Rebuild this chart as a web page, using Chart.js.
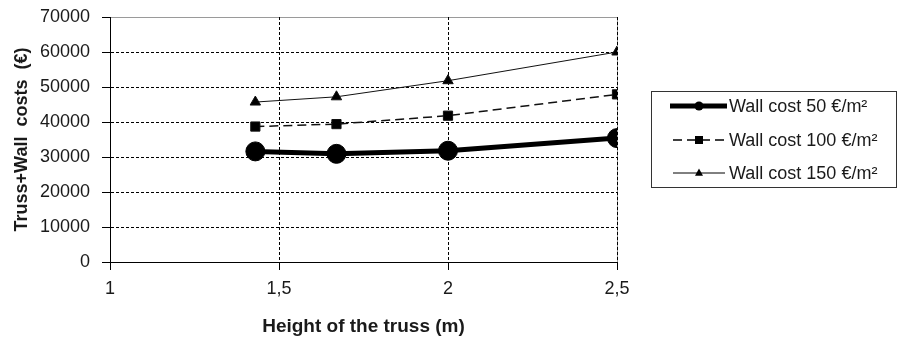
<!DOCTYPE html>
<html>
<head>
<meta charset="utf-8">
<script src="https://cdn.jsdelivr.net/npm/chart.js@4.4.0/dist/chart.umd.min.js"></script>
<style>
  html, body { margin: 0; padding: 0; background: #fff; }
  #wrap { width: 898px; height: 340px; }
</style>
</head>
<body>
<div id="wrap"><canvas id="costChart"></canvas></div>
<script>
// values
const heights = [1.43, 1.67, 2.0, 2.5];
const wallCost50 = [31600, 30900, 31800, 35400];
const wallCost100 = [38700, 39400, 41800, 47900];
const wallCost150 = [45700, 47200, 51800, 60000];
const seriesNames = ['Wall cost 50 €/m²', 'Wall cost 100 €/m²', 'Wall cost 150 €/m²'];
const xTicks = [1, 1.5, 2, 2.5];
const yTicks = [0, 10000, 20000, 30000, 40000, 50000, 60000, 70000];

const textColor = '#1a1a1a';

function toPoints(ys) {
    return heights.map((h, i) => ({ x: h, y: ys[i] }));
}

// draws a small marker the same way as the chart points
function drawMarker(ctx, style, x, y, r) {
    ctx.beginPath();
    if (style === 'circle') {
        ctx.arc(x, y, r, 0, Math.PI * 2);
    } else if (style === 'rect') {
        ctx.rect(x - r, y - r, r * 2, r * 2);
    } else {
        ctx.moveTo(x, y - r * 1.1);
        ctx.lineTo(x + r, y + r * 0.7);
        ctx.lineTo(x - r, y + r * 0.7);
        ctx.closePath();
    }
    ctx.fill();
}

// Excel style legend box on the right
const legendBox = {
    id: 'legendBox',
    afterDraw(chart) {
        const ctx = chart.ctx;
        ctx.save();
        ctx.strokeStyle = '#333';
        ctx.lineWidth = 1;
        ctx.setLineDash([]);
        ctx.strokeRect(651.5, 91.5, 245, 96);

        const rowsY = [106, 140, 173];
        const markerSize = [4.5, 4, 4];
        chart.data.datasets.forEach((ds, i) => {
            const y = rowsY[i];
            ctx.strokeStyle = '#000';
            ctx.fillStyle = '#000';
            ctx.lineWidth = ds.borderWidth;
            ctx.setLineDash(ds.borderDash || []);
            ctx.beginPath();
            ctx.moveTo(i === 0 ? 670 : 673, y);
            ctx.lineTo(i === 2 ? 725 : 727, y);
            ctx.stroke();
            ctx.setLineDash([]);
            drawMarker(ctx, ds.pointStyle, 699, y, markerSize[i]);

            ctx.fillStyle = textColor;
            ctx.font = '18px "Liberation Sans", Arial, sans-serif';
            ctx.textBaseline = 'middle';
            ctx.textAlign = 'left';
            ctx.fillText(ds.label, 729, y + 1);
        });
        ctx.restore();
    }
};

// gray plot area frame (top and right), under the gridlines
const plotFrame = {
    id: 'plotFrame',
    beforeDraw(chart) {
        const { ctx, chartArea: a } = chart;
        ctx.save();
        ctx.strokeStyle = '#9a9a9a';
        ctx.lineWidth = 1;
        ctx.beginPath();
        ctx.moveTo(a.left, a.top + 0.5);
        ctx.lineTo(a.right + 0.5, a.top + 0.5);
        ctx.lineTo(a.right + 0.5, a.bottom);
        ctx.stroke();
        ctx.restore();
    }
};

const ctx = document.getElementById('costChart').getContext('2d');
new Chart(ctx, {
    type: 'line',
    data: {
        datasets: [
            {
                label: seriesNames[0],
                data: toPoints(wallCost50),
                borderColor: '#000',
                backgroundColor: '#000',
                borderWidth: 5,
                pointStyle: 'circle',
                pointRadius: 9.5,
                pointBorderWidth: 1,
                tension: 0
            },
            {
                label: seriesNames[1],
                data: toPoints(wallCost100),
                borderColor: '#111',
                backgroundColor: '#000',
                borderWidth: 1.5,
                borderDash: [9, 5],
                pointStyle: 'rect',
                pointRadius: 6.5,
                pointBorderWidth: 1,
                tension: 0
            },
            {
                label: seriesNames[2],
                data: toPoints(wallCost150),
                borderColor: '#111',
                backgroundColor: '#000',
                borderWidth: 1,
                pointStyle: 'triangle',
                pointRadius: 6,
                pointBorderWidth: 1,
                tension: 0
            }
        ]
    },
    options: {
        responsive: true,
        maintainAspectRatio: false,
        animation: false,
        layout: { padding: { left: 0, top: 17, right: 281, bottom: 0 } },
        plugins: {
            legend: { display: false },
            tooltip: { enabled: false }
        },
        scales: {
            x: {
                type: 'linear',
                min: xTicks[0],
                max: xTicks[xTicks.length - 1],
                afterBuildTicks: s => { s.ticks = xTicks.map(v => ({ value: v })); },
                afterFit: s => { s.height = 78; },
                ticks: {
                    color: textColor,
                    padding: 8,
                    maxRotation: 0,
                    font: { family: '"Liberation Sans", Arial, sans-serif', size: 18 },
                    callback: v => String(v).replace('.', ',')
                },
                grid: {
                    color: c => (c.tick && c.tick.value === xTicks[0]) ? 'rgba(0,0,0,0)' : '#000',
                    lineWidth: 1,
                    tickColor: '#000',
                    tickLength: 8,
                    tickBorderDash: []
                },
                border: { display: true, color: '#000', width: 1, dash: [3, 2] },
                title: {
                    display: true,
                    text: 'Height of the truss (m)',
                    color: textColor,
                    padding: 2,
                    font: { family: '"Liberation Sans", Arial, sans-serif', size: 19, weight: 'bold' }
                }
            },
            y: {
                min: yTicks[0],
                max: yTicks[yTicks.length - 1],
                afterBuildTicks: s => { s.ticks = yTicks.map(v => ({ value: v })); },
                afterFit: s => { s.width = 110; s.paddingTop = 0; s.paddingBottom = 0; },
                ticks: {
                    color: textColor,
                    padding: 12,
                    font: { family: '"Liberation Sans", Arial, sans-serif', size: 18 },
                    callback: v => String(v)
                },
                grid: {
                    color: c => (c.tick && (c.tick.value === yTicks[0] || c.tick.value === yTicks[yTicks.length - 1])) ? 'rgba(0,0,0,0)' : '#000',
                    lineWidth: 1,
                    tickColor: '#000',
                    tickLength: 8,
                    tickBorderDash: []
                },
                border: { display: true, color: '#000', width: 1, dash: [3, 2] },
                title: {
                    display: true,
                    text: 'Truss+Wall  costs  (€)',
                    color: textColor,
                    padding: 11,
                    font: { family: '"Liberation Sans", Arial, sans-serif', size: 18, weight: 'bold' }
                }
            }
        }
    },
    plugins: [plotFrame, legendBox]
});
</script>
</body>
</html>
